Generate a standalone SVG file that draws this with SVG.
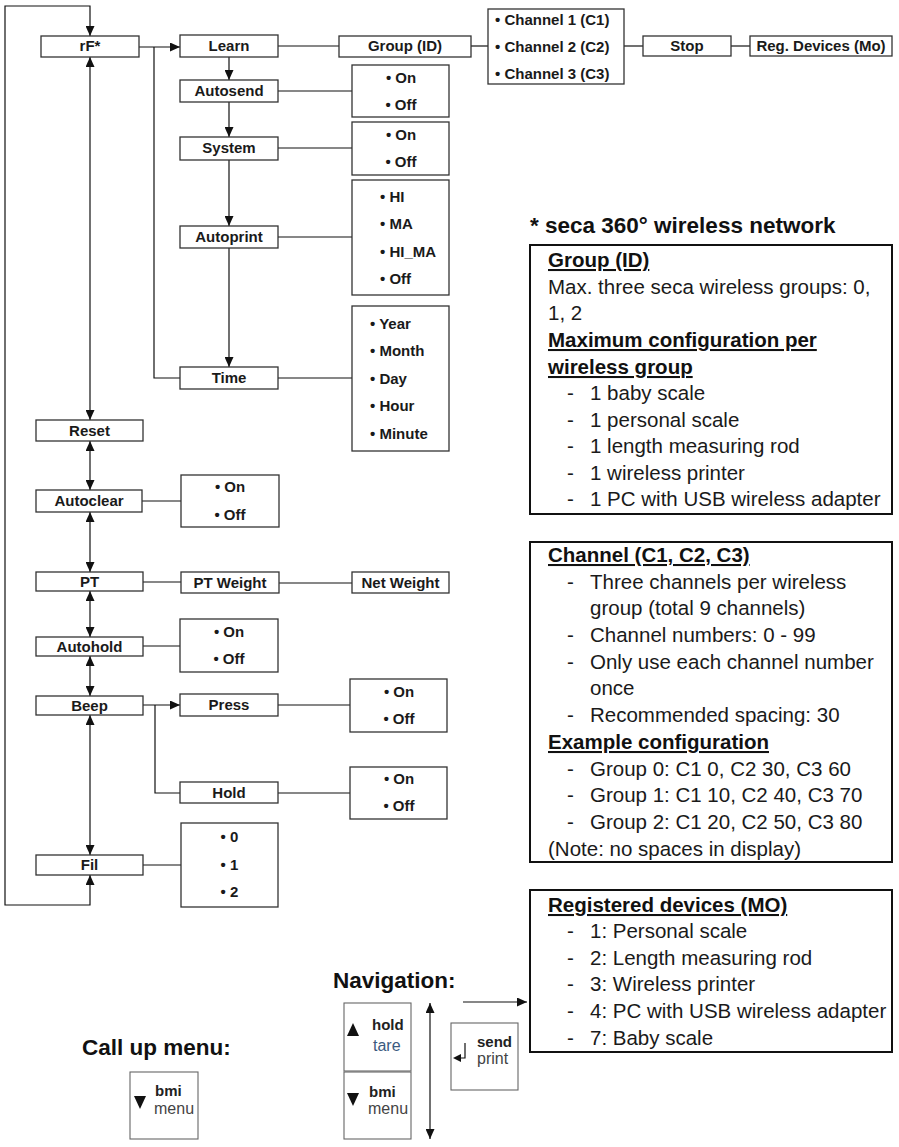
<svg xmlns="http://www.w3.org/2000/svg" width="899" height="1147" viewBox="0 0 899 1147">
<style>
.n{fill:#fff;stroke:#333;stroke-width:1.3}
.k{fill:#fff;stroke:#666;stroke-width:1.1}
.b{fill:#fff;stroke:#111;stroke-width:2}
.c{fill:none;stroke:#111;stroke-width:1.2}
.t{font-family:"Liberation Sans",Arial,Helvetica,sans-serif;font-weight:bold;font-size:15px;fill:#1a1a1a;text-anchor:middle}
.tl{font-family:"Liberation Sans",Arial,Helvetica,sans-serif;font-weight:bold;font-size:15px;fill:#1a1a1a}
.p{font-family:"Liberation Sans",Arial,Helvetica,sans-serif;font-size:20.5px;fill:#1a1a1a}
.h{font-family:"Liberation Sans",Arial,Helvetica,sans-serif;font-size:20.5px;font-weight:bold;fill:#111;text-decoration:underline}
.T{font-family:"Liberation Sans",Arial,Helvetica,sans-serif;font-size:22.5px;font-weight:bold;fill:#111}
.kb{font-family:"Liberation Sans",Arial,Helvetica,sans-serif;font-size:15px;font-weight:bold;fill:#222}
.kr{font-family:"Liberation Sans",Arial,Helvetica,sans-serif;font-size:16px;fill:#444}
</style>
<defs>
<marker id="a" markerUnits="userSpaceOnUse" markerWidth="10" markerHeight="9" refX="10" refY="4.5" orient="auto-start-reverse"><path d="M0,0 L10,4.5 L0,9 z" fill="#111"/></marker>
</defs>

<g id="connectors">
<path class="c" d="M90,875 V905 H5 V6 H90 V36" marker-start="url(#a)" marker-end="url(#a)"/>
<path class="c" d="M139,47 H180" marker-end="url(#a)"/>
<path class="c" d="M154,47 V378 H180"/>
<path class="c" d="M278,46 H339"/>
<path class="c" d="M471,46 H488"/>
<path class="c" d="M624,46 H643"/>
<path class="c" d="M731,46 H750"/>
<path class="c" d="M229,57 V80" marker-end="url(#a)"/>
<path class="c" d="M229,102 V137" marker-end="url(#a)"/>
<path class="c" d="M229,160 V226" marker-end="url(#a)"/>
<path class="c" d="M229,248 V367" marker-end="url(#a)"/>
<path class="c" d="M278,91 H352"/>
<path class="c" d="M278,148 H352"/>
<path class="c" d="M278,237 H352"/>
<path class="c" d="M278,378 H352"/>
<path class="c" d="M90,57 V420" marker-start="url(#a)" marker-end="url(#a)"/>
<path class="c" d="M90,441 V490" marker-start="url(#a)" marker-end="url(#a)"/>
<path class="c" d="M90,512 V572" marker-start="url(#a)" marker-end="url(#a)"/>
<path class="c" d="M90,591 V637" marker-start="url(#a)" marker-end="url(#a)"/>
<path class="c" d="M90,656 V696" marker-start="url(#a)" marker-end="url(#a)"/>
<path class="c" d="M90,715 V855" marker-start="url(#a)" marker-end="url(#a)"/>
<path class="c" d="M142,501 H181"/>
<path class="c" d="M143,582 H181"/>
<path class="c" d="M279,583 H352"/>
<path class="c" d="M143,646 H180"/>
<path class="c" d="M143,705 H180" marker-end="url(#a)"/>
<path class="c" d="M155,705 V793 H180"/>
<path class="c" d="M278,705 H350"/>
<path class="c" d="M278,793 H350"/>
<path class="c" d="M143,865 H181"/>
</g>

<g id="rF"><rect class="n" x="41" y="36" width="98" height="21"/><text class="t" x="90" y="51">rF*</text></g>
<g id="learn"><rect class="n" x="180" y="35" width="98" height="22"/><text class="t" x="229" y="51">Learn</text></g>
<g id="group"><rect class="n" x="339" y="36" width="132" height="21"/><text class="t" x="405" y="51">Group (ID)</text></g>
<g id="channels"><rect class="n" x="488" y="9" width="136" height="75"/>
<text class="tl" x="495" y="25">• Channel 1 (C1)</text>
<text class="tl" x="495" y="52">• Channel 2 (C2)</text>
<text class="tl" x="495" y="79">• Channel 3 (C3)</text></g>
<g id="stop"><rect class="n" x="643" y="36" width="88" height="20"/><text class="t" x="687" y="51">Stop</text></g>
<g id="regdev"><rect class="n" x="750" y="36" width="142" height="20"/><text class="t" x="821" y="51">Reg. Devices (Mo)</text></g>

<g id="autosend"><rect class="n" x="180" y="80" width="98" height="22"/><text class="t" x="229" y="96">Autosend</text></g>
<g id="autosend-opts"><rect class="n" x="352" y="65" width="97" height="52"/><text class="t" x="401" y="83">• On</text><text class="t" x="401" y="110">• Off</text></g>
<g id="system"><rect class="n" x="180" y="137" width="98" height="23"/><text class="t" x="229" y="153">System</text></g>
<g id="system-opts"><rect class="n" x="352" y="122" width="97" height="53"/><text class="t" x="401" y="140">• On</text><text class="t" x="401" y="167">• Off</text></g>
<g id="autoprint"><rect class="n" x="180" y="226" width="98" height="22"/><text class="t" x="229" y="242">Autoprint</text></g>
<g id="autoprint-opts"><rect class="n" x="352" y="180" width="97" height="115"/>
<text class="tl" x="380" y="202">• HI</text><text class="tl" x="380" y="229">• MA</text><text class="tl" x="380" y="257">• HI_MA</text><text class="tl" x="380" y="284">• Off</text></g>
<g id="time"><rect class="n" x="180" y="367" width="98" height="22"/><text class="t" x="229" y="383">Time</text></g>
<g id="time-opts"><rect class="n" x="352" y="306" width="97" height="145"/>
<text class="tl" x="370" y="329">• Year</text><text class="tl" x="370" y="356">• Month</text><text class="tl" x="370" y="384">• Day</text><text class="tl" x="370" y="411">• Hour</text><text class="tl" x="370" y="439">• Minute</text></g>

<g id="reset"><rect class="n" x="36" y="420" width="107" height="21"/><text class="t" x="89.5" y="436">Reset</text></g>
<g id="autoclear"><rect class="n" x="36" y="490" width="106" height="22"/><text class="t" x="89" y="506">Autoclear</text></g>
<g id="autoclear-opts"><rect class="n" x="181" y="475" width="98" height="52"/><text class="t" x="230" y="492">• On</text><text class="t" x="230" y="520">• Off</text></g>
<g id="pt"><rect class="n" x="36" y="572" width="107" height="19"/><text class="t" x="89.5" y="587">PT</text></g>
<g id="ptweight"><rect class="n" x="181" y="572" width="98" height="21"/><text class="t" x="230" y="588">PT Weight</text></g>
<g id="netweight"><rect class="n" x="352" y="572" width="97" height="21"/><text class="t" x="400.5" y="588">Net Weight</text></g>
<g id="autohold"><rect class="n" x="36" y="637" width="107" height="19"/><text class="t" x="89.5" y="652">Autohold</text></g>
<g id="autohold-opts"><rect class="n" x="180" y="619" width="98" height="53"/><text class="t" x="229" y="637">• On</text><text class="t" x="229" y="664">• Off</text></g>
<g id="beep"><rect class="n" x="36" y="696" width="107" height="19"/><text class="t" x="89.5" y="711">Beep</text></g>
<g id="press"><rect class="n" x="180" y="694" width="98" height="22"/><text class="t" x="229" y="710">Press</text></g>
<g id="press-opts"><rect class="n" x="350" y="679" width="97" height="53"/><text class="t" x="399" y="697">• On</text><text class="t" x="399" y="724">• Off</text></g>
<g id="hold"><rect class="n" x="180" y="782" width="98" height="21"/><text class="t" x="229" y="798">Hold</text></g>
<g id="hold-opts"><rect class="n" x="350" y="767" width="97" height="52"/><text class="t" x="399" y="784">• On</text><text class="t" x="399" y="811">• Off</text></g>
<g id="fil"><rect class="n" x="36" y="855" width="107" height="20"/><text class="t" x="89.5" y="870">Fil</text></g>
<g id="fil-opts"><rect class="n" x="181" y="823" width="97" height="84"/><text class="t" x="229.5" y="842">• 0</text><text class="t" x="229.5" y="870">• 1</text><text class="t" x="229.5" y="897">• 2</text></g>

<g id="legend-title"><text class="T" x="530" y="233">* seca 360° wireless network</text></g>
<g id="legend-group">
<rect class="b" x="530" y="245" width="362" height="269"/>
<text class="h" x="548" y="267">Group (ID)</text>
<text class="p" x="548" y="294">Max. three seca wireless groups: 0,</text>
<text class="p" x="548" y="320">1, 2</text>
<text class="h" x="548" y="347">Maximum configuration per </text>
<text class="h" x="548" y="374">wireless group</text>
<text class="p" x="567" y="400">-</text><text class="p" x="590" y="400">1 baby scale</text>
<text class="p" x="567" y="427">-</text><text class="p" x="590" y="427">1 personal scale</text>
<text class="p" x="567" y="453">-</text><text class="p" x="590" y="453">1 length measuring rod</text>
<text class="p" x="567" y="480">-</text><text class="p" x="590" y="480">1 wireless printer</text>
<text class="p" x="567" y="506">-</text><text class="p" x="590" y="506">1 PC with USB wireless adapter</text>
</g>
<g id="legend-channel">
<rect class="b" x="530" y="542" width="362" height="320"/>
<text class="h" x="548" y="562">Channel (C1, C2, C3)</text>
<text class="p" x="567" y="589">-</text><text class="p" x="590" y="589">Three channels per wireless</text>
<text class="p" x="590" y="615">group (total 9 channels)</text>
<text class="p" x="567" y="642">-</text><text class="p" x="590" y="642">Channel numbers: 0 - 99</text>
<text class="p" x="567" y="669">-</text><text class="p" x="590" y="669">Only use each channel number</text>
<text class="p" x="590" y="695">once</text>
<text class="p" x="567" y="722">-</text><text class="p" x="590" y="722">Recommended spacing: 30</text>
<text class="h" x="548" y="749">Example configuration</text>
<text class="p" x="567" y="776">-</text><text class="p" x="590" y="776">Group 0: C1 0, C2 30, C3 60</text>
<text class="p" x="567" y="802">-</text><text class="p" x="590" y="802">Group 1: C1 10, C2 40, C3 70</text>
<text class="p" x="567" y="829">-</text><text class="p" x="590" y="829">Group 2: C1 20, C2 50, C3 80</text>
<text class="p" x="548" y="856">(Note: no spaces in display)</text>
</g>
<g id="legend-devices">
<rect class="b" x="530" y="890" width="362" height="162"/>
<text class="h" x="548" y="912">Registered devices (MO)</text>
<text class="p" x="567" y="938">-</text><text class="p" x="590" y="938">1: Personal scale</text>
<text class="p" x="567" y="965">-</text><text class="p" x="590" y="965">2: Length measuring rod</text>
<text class="p" x="567" y="991">-</text><text class="p" x="590" y="991">3: Wireless printer</text>
<text class="p" x="567" y="1018">-</text><text class="p" x="590" y="1018">4: PC with USB wireless adapter</text>
<text class="p" x="567" y="1045">-</text><text class="p" x="590" y="1045">7: Baby scale</text>
</g>

<g id="navigation">
<text class="T" x="333" y="988">Navigation:</text>
<rect class="k" x="344" y="1003" width="67" height="68"/>
<path d="M347,1036 L359,1036 L353,1023 z" fill="#111"/>
<text class="kb" x="372" y="1030">hold</text>
<text class="kr" x="373" y="1051" style="fill:#3b5a80">tare</text>
<rect class="k" x="344" y="1072" width="67" height="67"/>
<path d="M347,1093 L359,1093 L353,1106 z" fill="#111"/>
<text class="kb" x="369" y="1097">bmi</text>
<text class="kr" x="368" y="1114">menu</text>
<path class="c" d="M430,1003 V1139" marker-start="url(#a)" marker-end="url(#a)"/>
<path class="c" d="M463,1002 H527" marker-end="url(#a)"/>
<rect class="k" x="451" y="1023" width="67" height="67"/>
<path d="M465,1043 V1058 H460" fill="none" stroke="#111" stroke-width="1.2"/>
<path d="M453,1058 L461,1054 L461,1062 z" fill="#111"/>
<text class="kb" x="477" y="1047">send</text>
<text class="kr" x="477" y="1064">print</text>
</g>

<g id="callup">
<text class="T" x="82" y="1055">Call up menu:</text>
<rect class="k" x="130" y="1072" width="68" height="67"/>
<path d="M134,1096 L146,1096 L140,1109 z" fill="#111"/>
<text class="kb" x="155" y="1096">bmi</text>
<text class="kr" x="154" y="1114">menu</text>
</g>
</svg>
